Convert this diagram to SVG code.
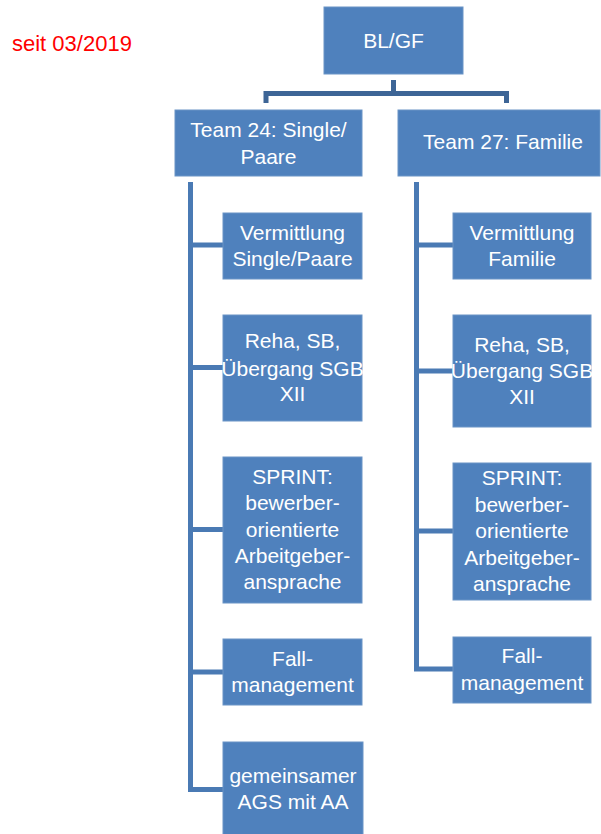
<svg xmlns="http://www.w3.org/2000/svg" width="601" height="834" viewBox="0 0 601 834">
<style>
.box{fill:#4f81bd;stroke:#6a94c6;stroke-width:1}
.t{font-family:"Liberation Sans",Arial,sans-serif;font-size:21px;fill:#ffffff;text-anchor:middle}
.c{fill:none;stroke:#4a7ab4;stroke-width:5;stroke-linejoin:miter}
.top{fill:none;stroke:#3d6596;stroke-width:5}
</style>
<rect width="601" height="834" fill="#ffffff"/>
<text x="12" y="51" font-family="Liberation Sans,Arial,sans-serif" font-size="22" fill="#ff0000">seit 03/2019</text>
<g id="connectors">
<path class="top" d="M393.5,80 V93.5 M266,103 V93.5 H506.5 V103"/>
<path class="c" d="M190.5,182 V789.5 H223 M190.5,245 H223 M190.5,367.5 H223 M190.5,529.5 H223 M190.5,672 H223"/>
<path class="c" d="M416.5,182 V669 H453 M416.5,245 H453 M416.5,371 H453 M416.5,531 H453"/>
</g>
<g id="bl-gf"><rect class="box" x="324" y="7" width="139" height="67"/><text class="t" x="393.5" y="48">BL/GF</text></g>
<g id="team24"><rect class="box" x="175" y="110" width="187" height="66"/><text class="t" x="268.5" y="137">Team 24: Single/</text><text class="t" x="268.5" y="164">Paare</text></g>
<g id="team27"><rect class="box" x="398" y="110" width="202" height="66"/><text class="t" x="503" y="149">Team 27: Familie</text></g>
<g id="l1"><rect class="box" x="223" y="213" width="139" height="66"/><text class="t" x="292.5" y="240">Vermittlung</text><text class="t" x="292.5" y="266">Single/Paare</text></g>
<g id="l2"><rect class="box" x="223" y="315" width="139" height="106"/><text class="t" x="292.5" y="348">Reha, SB,</text><text class="t" x="292.5" y="375.5">Übergang SGB</text><text class="t" x="292.5" y="401">XII</text></g>
<g id="l3"><rect class="box" x="223" y="457" width="139" height="146"/><text class="t" x="292.5" y="483.5">SPRINT:</text><text class="t" x="292.5" y="510">bewerber-</text><text class="t" x="292.5" y="536.5">orientierte</text><text class="t" x="292.5" y="563">Arbeitgeber-</text><text class="t" x="292.5" y="589">ansprache</text></g>
<g id="l4"><rect class="box" x="223" y="639" width="139" height="66"/><text class="t" x="292.5" y="666">Fall-</text><text class="t" x="292.5" y="692">management</text></g>
<g id="l5"><rect class="box" x="223" y="742" width="140" height="94"/><text class="t" x="293" y="783">gemeinsamer</text><text class="t" x="293" y="809">AGS mit AA</text></g>
<g id="r1"><rect class="box" x="453" y="213" width="138" height="66"/><text class="t" x="522" y="240">Vermittlung</text><text class="t" x="522" y="266">Familie</text></g>
<g id="r2"><rect class="box" x="453" y="315" width="138" height="112"/><text class="t" x="522" y="351.5">Reha, SB,</text><text class="t" x="522" y="377.5">Übergang SGB</text><text class="t" x="522" y="403.5">XII</text></g>
<g id="r3"><rect class="box" x="453" y="463" width="138" height="137"/><text class="t" x="522" y="485">SPRINT:</text><text class="t" x="522" y="511.5">bewerber-</text><text class="t" x="522" y="538">orientierte</text><text class="t" x="522" y="565">Arbeitgeber-</text><text class="t" x="522" y="590.5">ansprache</text></g>
<g id="r4"><rect class="box" x="453" y="637" width="138" height="66"/><text class="t" x="522" y="663">Fall-</text><text class="t" x="522" y="689.5">management</text></g>
</svg>
